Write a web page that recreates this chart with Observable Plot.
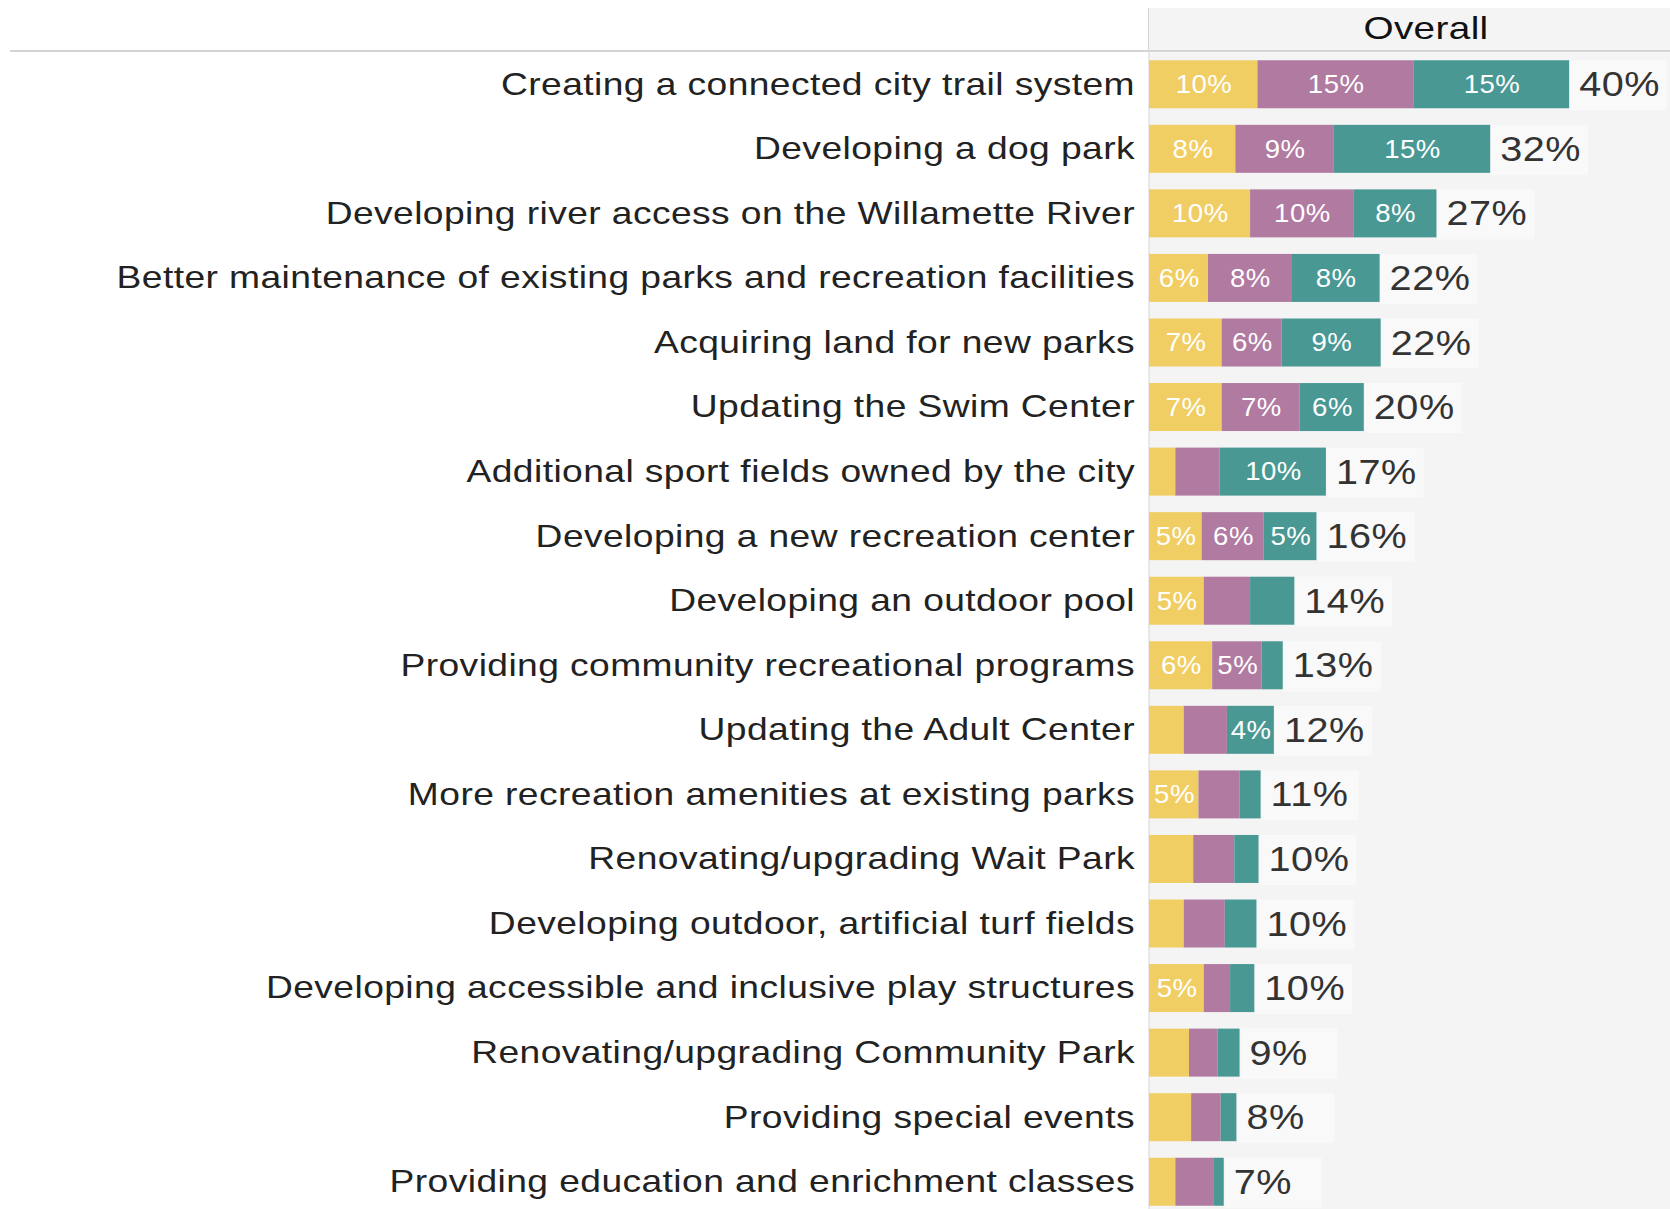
<!DOCTYPE html>
<html>
<head>
<meta charset="utf-8">
<script src="https://cdn.jsdelivr.net/npm/d3@7"></script>
<script src="https://cdn.jsdelivr.net/npm/@observablehq/plot@0.6"></script>
<style>
  html, body { margin: 0; padding: 0; background: #fff; overflow: hidden; }
  body { font-family: "Liberation Sans", Arial, Helvetica, sans-serif; }
  #hdr { position: relative; width: 1670px; height: 52px; }
  #hdr .panel { position: absolute; left: 1148px; top: 8px; right: 0; bottom: 0; background: #f4f4f4; border-left: 1px solid #d4d4d4; }
  #hdr .title { position: absolute; left: 1426px; top: 8px; transform: translateX(-50%) scaleX(1.21); font-size: 32px; line-height: 40px; color: #111; letter-spacing: 0.3px; }
  #hdr .line { position: absolute; left: 10px; right: 0; top: 50px; height: 2px; background: #d4d4d4; }
  #chart svg { display: block; }
  #chart [font-size="31"], #chart [font-size="31px"] { letter-spacing: 0.35px; }
  #chart [font-size="26"], #chart [font-size="26px"] { letter-spacing: 0.5px; }
  #chart [font-size="36"], #chart [font-size="36px"] { letter-spacing: 0.5px; }
</style>
</head>
<body>
<div id="hdr"><div class="panel"></div><div class="title">Overall</div><div class="line"></div></div>
<div id="chart"></div>
<script>
const items = [
  "Creating a connected city trail system",
  "Developing a dog park",
  "Developing river access on the Willamette River",
  "Better maintenance of existing parks and recreation facilities",
  "Acquiring land for new parks",
  "Updating the Swim Center",
  "Additional sport fields owned by the city",
  "Developing a new recreation center",
  "Developing an outdoor pool",
  "Providing community recreational programs",
  "Updating the Adult Center",
  "More recreation amenities at existing parks",
  "Renovating/upgrading Wait Park",
  "Developing outdoor, artificial turf fields",
  "Developing accessible and inclusive play structures",
  "Renovating/upgrading Community Park",
  "Providing special events",
  "Providing education and enrichment classes"
];
const seriesNames = ["First choice", "Second choice", "Third choice"];
const seriesColors = ["#F1CE63", "#B07AA1", "#499894"];
const firstPct  = [10.3, 8.2, 9.6, 5.6, 6.9, 6.9, 2.5, 5.0, 5.2, 6.0, 3.3, 4.7, 4.2, 3.3, 5.2, 3.8, 4.0, 2.5];
const secondPct = [14.8, 9.3, 9.8, 7.9, 5.7, 7.4, 4.2, 5.9, 4.4, 4.7, 4.1, 3.9, 3.9, 3.9, 2.5, 2.7, 2.8, 3.6];
const thirdPct  = [14.8, 14.9, 7.9, 8.4, 9.4, 6.1, 10.1, 5.0, 4.2, 2.0, 4.46, 2.0, 2.3, 3.0, 2.3, 2.1, 1.5, 1.0];

const seriesValues = [firstPct, secondPct, thirdPct];
const rows = items.flatMap((item, i) =>
  seriesNames.map((s, j) => ({ item, series: s, value: seriesValues[j][i] })));
const totals = items.map((item, i) => ({
  item, total: firstPct[i] + secondPct[i] + thirdPct[i]
}));

const chart = Plot.plot({
  width: 1670,
  height: 1162,
  marginLeft: 1149,
  marginRight: 0,
  marginTop: 0,
  marginBottom: 0,
  style: { fontFamily: "'Liberation Sans', Arial, Helvetica, sans-serif", background: "transparent" },
  x: { domain: [0, 49.48], axis: null },
  y: { domain: items, paddingInner: 0.2565, paddingOuter: 0.128, round: false, axis: null },
  color: { domain: seriesNames, range: seriesColors },
  marks: [
    Plot.frame({ fill: "#f4f4f4", stroke: null }),
    Plot.ruleX([0], { stroke: "#d4d4d4", dx: -0.5 }),
    Plot.rect(totals, { x1: "total", x2: d => d.total + 9.3, y: "item", fill: "#f9f9f9", insetLeft: 1, insetBottom: -2 }),
    Plot.barX(rows, { x: "value", y: "item", fill: "series", z: "series" }),
    Plot.text(rows, Plot.stackX({
      x: "value", y: "item", z: "series",
      text: d => d.value >= 4.45 ? Math.round(d.value) + "%" : null,
      fill: "white", fontSize: 26, dx: 0.3
    })),
    Plot.text(totals, {
      x: "total", y: "item", text: d => Math.round(d.total) + "%",
      dx: 9.5, textAnchor: "start", fontSize: 36, fill: "#333"
    }),
    Plot.text(items, {
      y: d => d, text: d => d, frameAnchor: "left", textAnchor: "end",
      dx: -14.5, fontSize: 31, fill: "#222"
    })
  ]
});
document.getElementById("chart").appendChild(chart);

// widen glyphs horizontally (about each text's own anchor) to match the reference face
const stretch = { "31": 1.2, "36": 1.1, "26": 1.06 };
d3.select(chart).selectAll("g").each(function () {
  const fs = (this.getAttribute("font-size") || "").replace("px", "");
  if (!(fs in stretch)) return;
  const k = stretch[fs];
  d3.select(this).selectAll("text").each(function () {
    const t = this.getAttribute("transform");
    if (t) {
      this.setAttribute("transform", t + ` scale(${k},1)`);
    } else {
      const x = +this.getAttribute("x") || 0, y = +this.getAttribute("y") || 0;
      this.removeAttribute("x"); this.removeAttribute("y");
      this.setAttribute("transform", `translate(${x},${y}) scale(${k},1)`);
    }
  });
});
</script>
</body>
</html>
